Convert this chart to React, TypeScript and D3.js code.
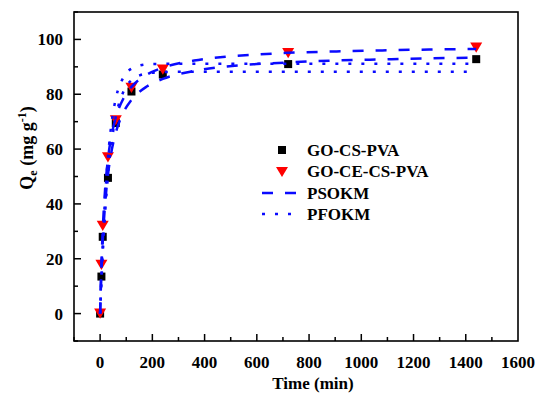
import * as d3 from "d3";

const w = 554;
const h = 398;
const left = 74;
const right = 518;
const top = 12;
const bottom = 341;

// measured points
const times = [0, 5, 10, 30, 60, 120, 240, 720, 1440];
const goCsPva = [0, 13.5, 28, 49.5, 69.5, 81, 87.2, 91, 92.8];
const goCeCsPva = [0, 17.8, 32, 57, 70.5, 82.3, 89, 95, 97];

// fitted curves
const fitTimes = [0, 2, 5, 10, 15, 20, 30, 45, 60, 90, 120, 180, 240, 360, 480, 600, 720, 900, 1080, 1260, 1440];
const psoCs = [0, 6.7, 15.2, 26.2, 34.5, 41.0, 50.6, 59.9, 66.0, 73.5, 77.9, 82.9, 85.6, 88.5, 90.1, 91.0, 91.6, 92.3, 92.7, 93.1, 93.3];
const psoCe = [0, 8.1, 18.0, 30.4, 39.5, 46.5, 56.3, 65.6, 71.5, 78.6, 82.7, 87.2, 89.7, 92.3, 93.7, 94.5, 95.1, 95.6, 96.0, 96.3, 96.5];
const pfoCs = [0, 4.8, 11.5, 21.5, 30.3, 37.8, 50.1, 63.2, 71.8, 81.1, 85.1, 87.6, 88.1, 88.2, 88.2, 88.2, 88.2, 88.2, 88.2, 88.2, 88.2];
const pfoCe = [0, 5.8, 13.8, 25.5, 35.4, 43.8, 57.0, 70.3, 78.4, 86.3, 89.3, 90.9, 91.1, 91.1, 91.1, 91.1, 91.1, 91.1, 91.1, 91.1, 91.1];

const xTicks = [0, 200, 400, 600, 800, 1000, 1200, 1400, 1600];
const xMinor = [-100, 100, 300, 500, 700, 900, 1100, 1300, 1500];
const yTicks = [0, 20, 40, 60, 80, 100];
const yMinor = [-10, 10, 30, 50, 70, 90, 110];

const x = d3.scaleLinear().domain([-100, 1600]).range([left, right]);
const y = d3.scaleLinear().domain([-10, 110]).range([bottom, top]);

const line = d3
  .line<number>()
  .x((d, i) => x(fitTimes[i]))
  .y((d) => y(d))
  .curve(d3.curveMonotoneX);

const font = "'Liberation Serif', 'Times New Roman', serif";
const blue = "#0a0aff";
const dash = "11 12";
const dot = "3 10";

function tri(cx: number, cy: number, s = 12) {
  const hh = s * 0.85;
  return `M${cx - s / 2},${cy - hh / 2}L${cx + s / 2},${cy - hh / 2}L${cx},${cy + hh / 2}Z`;
}

function App() {
  return (
    <svg
      width={w}
      height={h}
      style={{ position: "absolute", left: 0, top: 0, background: "#fff" }}
      fontFamily={font}
      fontWeight="bold"
    >
      {/* markers */}
      {times.map((t, i) => (
        <rect key={"s" + i} x={x(t) - 4} y={y(goCsPva[i]) - 4} width={8} height={8} fill="black" />
      ))}
      {times.map((t, i) => (
        <path key={"t" + i} d={tri(x(t), y(goCeCsPva[i]))} fill="red" />
      ))}

      {/* fits */}
      <path d={line(psoCs) || ""} fill="none" stroke={blue} strokeWidth={2.5} strokeDasharray={dash} />
      <path d={line(psoCe) || ""} fill="none" stroke={blue} strokeWidth={2.5} strokeDasharray={dash} />
      <path d={line(pfoCs) || ""} fill="none" stroke={blue} strokeWidth={2.5} strokeDasharray={dot} />
      <path d={line(pfoCe) || ""} fill="none" stroke={blue} strokeWidth={2.5} strokeDasharray={dot} />

      {/* frame */}
      <rect x={left} y={top} width={right - left} height={bottom - top} fill="none" stroke="black" strokeWidth={1.6} />

      {xTicks.map((t) => (
        <g key={"xt" + t}>
          {t < 1600 && <line x1={x(t)} x2={x(t)} y1={bottom} y2={bottom - 7} stroke="black" strokeWidth={1.5} />}
          <text x={x(t)} y={bottom + 27} textAnchor="middle" fontSize={17}>
            {t}
          </text>
        </g>
      ))}
      {xMinor.map((t) => (
        <line key={"xm" + t} x1={x(t)} x2={x(t)} y1={bottom} y2={bottom - 4} stroke="black" strokeWidth={1.5} />
      ))}
      {yTicks.map((t) => (
        <g key={"yt" + t}>
          <line x1={left} x2={left + 7} y1={y(t)} y2={y(t)} stroke="black" strokeWidth={1.5} />
          <text x={left - 11} y={y(t) + 6} textAnchor="end" fontSize={17}>
            {t}
          </text>
        </g>
      ))}
      {yMinor.map((t) => (
        <line key={"ym" + t} x1={left} x2={left + 4} y1={y(t)} y2={y(t)} stroke="black" strokeWidth={1.5} />
      ))}

      <text x={313} y={389} textAnchor="middle" fontSize={17}>
        Time (min)
      </text>
      <text transform={`translate(33,${148}) rotate(-90)`} textAnchor="middle" fontSize={18}>
        Q<tspan fontSize={12} dy={4}>e</tspan>
        <tspan dy={-4}> (mg g</tspan>
        <tspan fontSize={12} dy={-7}>-1</tspan>
        <tspan dy={7}>)</tspan>
      </text>

      {/* legend */}
      <rect x={278} y={146} width={8} height={8} fill="black" />
      <text x={307} y={156} fontSize={17}>GO-CS-PVA</text>
      <path d={tri(282, 172)} fill="red" />
      <text x={307} y={177} fontSize={17}>GO-CE-CS-PVA</text>
      <line x1={262} x2={300} y1={193} y2={193} stroke={blue} strokeWidth={2.5} strokeDasharray={dash} />
      <text x={307} y={199} fontSize={17}>PSOKM</text>
      <line x1={262} x2={300} y1={214} y2={214} stroke={blue} strokeWidth={2.5} strokeDasharray={dot} />
      <text x={307} y={220} fontSize={17}>PFOKM</text>
    </svg>
  );
}

export default App;
